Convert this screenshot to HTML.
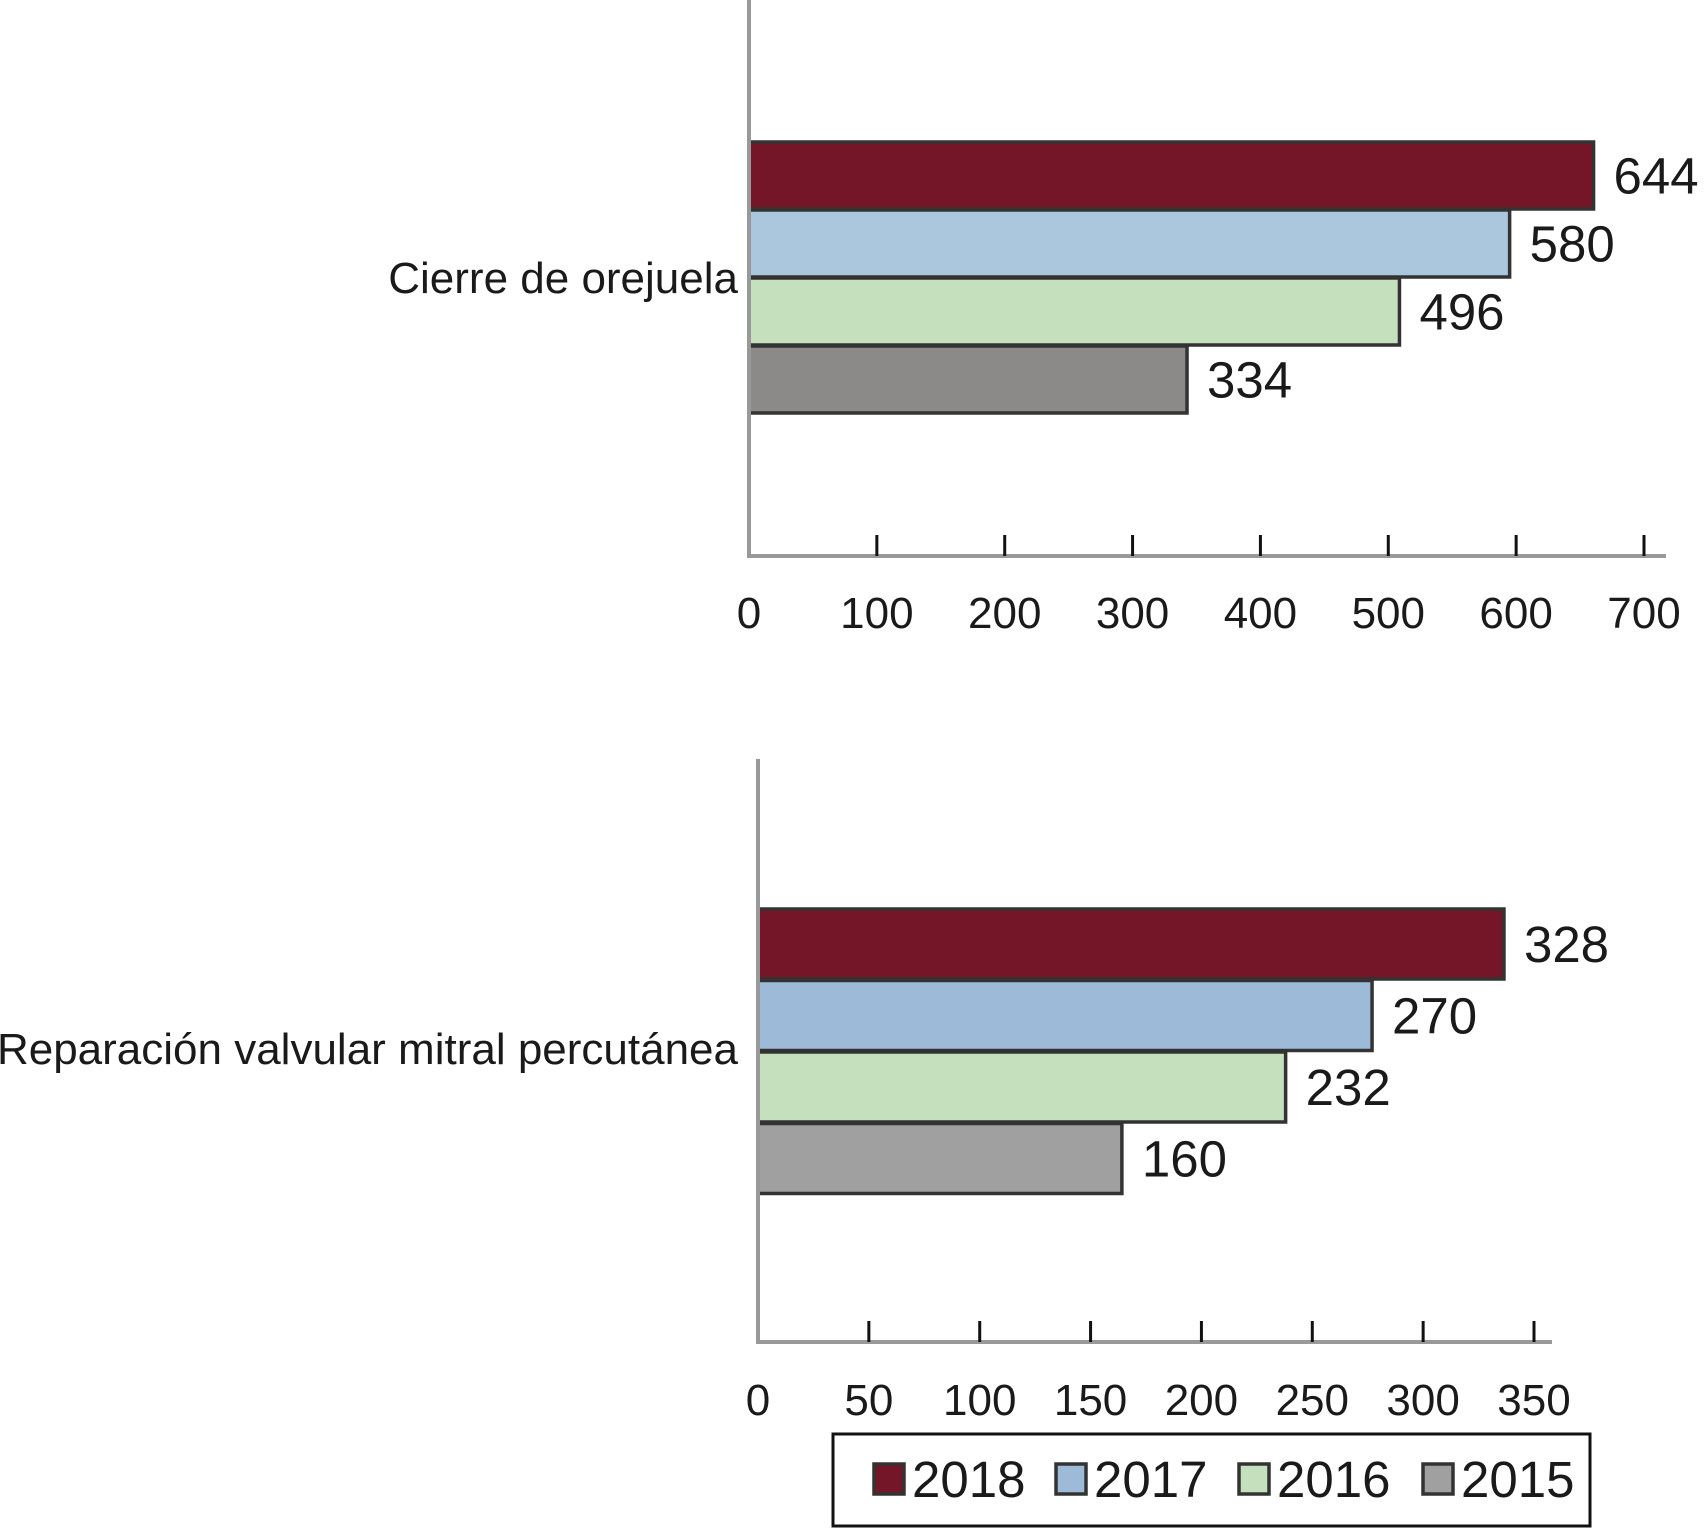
<!DOCTYPE html>
<html><head><meta charset="utf-8">
<style>
html,body{margin:0;padding:0;background:#fff;}
svg{display:block;font-family:"Liberation Sans",Arial,sans-serif;}
</style></head>
<body>
<svg id="c" width="1708" height="1529" viewBox="0 0 1708 1529"></svg>
<script>
const years = ["2018","2017","2016","2015"];
const topCategory = "Cierre de orejuela";
const topValues = [644, 580, 496, 334];
const topTicks = [0,100,200,300,400,500,600,700];
const bottomCategory = "Reparación valvular mitral percutánea";
const bottomValues = [328, 270, 232, 160];
const bottomTicks = [0,50,100,150,200,250,300,350];

const NS = "http://www.w3.org/2000/svg";
const svg = document.getElementById('c');
function mk(tag, attrs, parent){
  const e = document.createElementNS(NS, tag);
  for (const k in attrs) e.setAttribute(k, attrs[k]);
  (parent||svg).appendChild(e);
  return e;
}
function panel(cfg){
  const g = mk('g', {});
  
  
  const xb = v => cfg.x0 + v / cfg.max * (cfg.xBarEnd - cfg.x0);
  const xt = v => cfg.x0 + v / cfg.max * (cfg.xTickEnd - cfg.x0);
  cfg.values.forEach((v,i)=>{
    const y = cfg.barTop + i*cfg.barStep;
    const r = mk('rect', {x:cfg.x0, y:y, width:xb(v)-cfg.x0, height:cfg.barH, fill:cfg.colors[i], stroke:'#333','stroke-width':3.5}, g);
    
    
    const t = mk('text', {x:xb(v)+20, y:y+cfg.barH/2+18, 'font-size':51, fill:'#1a1a1a'}, g);
    t.textContent = v;
    
    
  });
  const ya = mk('line', {x1:cfg.x0, y1:cfg.yTop, x2:cfg.x0, y2:cfg.axisY, stroke:'#999', 'stroke-width':4}, g);
  
  
  const xa = mk('line', {x1:cfg.x0-2, y1:cfg.axisY, x2:cfg.axisEnd, y2:cfg.axisY, stroke:'#999', 'stroke-width':4}, g);
  
  
  cfg.ticks.forEach(tv=>{
    if (tv>0){
      const tk = mk('line', {x1:xt(tv), y1:cfg.axisY-21, x2:xt(tv), y2:cfg.axisY, stroke:'#111', 'stroke-width':3}, g);
      
      
    }
    const tl = mk('text', {x:xt(tv), y:cfg.tickLabelY, 'font-size':44, 'text-anchor':'middle', fill:'#1a1a1a'}, g);
    tl.textContent = tv;
    
    
  });
  const cl = mk('text', {x:738, y:cfg.catY, 'font-size':44, 'text-anchor':'end', fill:'#1a1a1a'}, g);
  cl.textContent = cfg.category;
  
  
}
panel({name:'top-panel', x0:749, xBarEnd:1667, xTickEnd:1644, max:700, yTop:0, axisY:556, axisEnd:1666,
  barTop:142, barStep:68, barH:67, values:topValues, ticks:topTicks, tickLabelY:628,
  catY:293, category:topCategory, colors:['#741628','#abc7dd','#c5e0bc','#8c8a88']});
panel({name:'bottom-panel', x0:758, xBarEnd:1554, xTickEnd:1534, max:350, yTop:759, axisY:1342, axisEnd:1552,
  barTop:909, barStep:71.5, barH:70, values:bottomValues, ticks:bottomTicks, tickLabelY:1415,
  catY:1064, category:bottomCategory, colors:['#741628','#9dbad8','#c5e0bc','#a0a0a0']});

const lg = mk('g', {});


mk('rect', {x:833, y:1434, width:757, height:92, fill:'#fff', stroke:'#111', 'stroke-width':3}, lg);
const legColors = ['#741628','#9dbad8','#c5e0bc','#a0a0a0'];
const legX = [874,1056,1239,1423];
years.forEach((yr,i)=>{
  const item = mk('g', {}, lg);
  
  
  mk('rect', {x:legX[i], y:1464, width:30, height:30, fill:legColors[i], stroke:'#333', 'stroke-width':3.5}, item);
  const t = mk('text', {x:legX[i]+38, y:1497, 'font-size':51, fill:'#1a1a1a'}, item);
  t.textContent = yr;
});
</script>
</body></html>
